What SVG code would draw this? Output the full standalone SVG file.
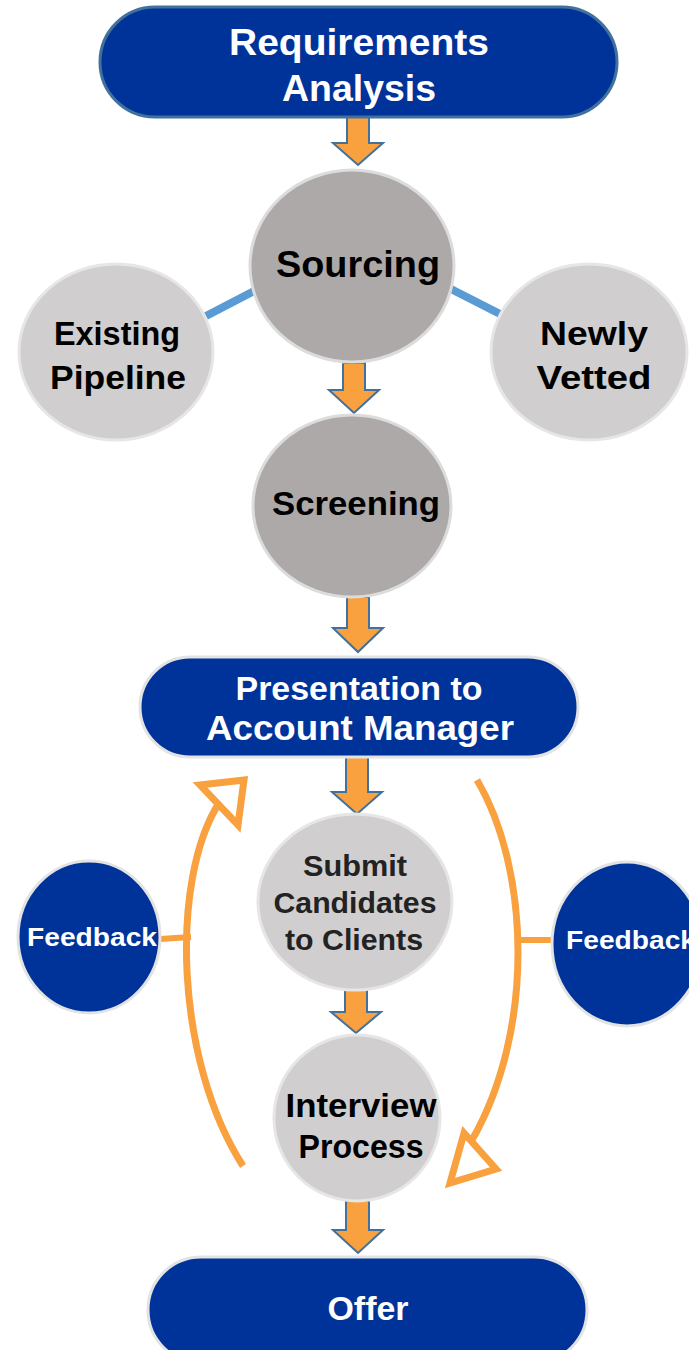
<svg xmlns="http://www.w3.org/2000/svg" width="689" height="1350" viewBox="0 0 689 1350">
<style>
.pill{fill:#003399;stroke:#E3E3E3;stroke-width:3}
.dark{fill:#ACA9A8;stroke:#DCDCDC;stroke-width:3}
.light{fill:#D0CECE;stroke:#E6E6E6;stroke-width:3}
.fb{fill:#003399;stroke:#E3E3E3;stroke-width:3}
.blk{fill:#F9A03F;stroke:#41719C;stroke-width:2;stroke-linejoin:miter}
.loop{fill:none;stroke:#F9A03F;stroke-width:7}
.head{fill:#FFFFFF;stroke:#F9A03F;stroke-width:7;stroke-linejoin:miter}
.tick{fill:none;stroke:#F9A03F;stroke-width:6}
.link{fill:none;stroke:#5B9BD5;stroke-width:8}
.w{font-family:"Liberation Sans",Arial,sans-serif;font-weight:bold;fill:#FFFFFF;text-anchor:middle}
.b{font-family:"Liberation Sans",Arial,sans-serif;font-weight:bold;fill:#000000;text-anchor:middle}
.n{font-family:"Liberation Sans",Arial,sans-serif;font-weight:bold;fill:#222222;text-anchor:middle}
</style>
<rect width="689" height="1350" fill="#FFFFFF"/>
<g id="connectors">
<line class="link" x1="206" y1="316" x2="256" y2="290"/>
<line class="link" x1="449" y1="288" x2="502" y2="315"/>
<path class="blk" d="M347 117 H369 V143 H383 L358 165 L333 143 H347 Z"/>
<path class="blk" d="M343 363 H365 V390 H379 L354 413 L329 390 H343 Z"/>
<path class="blk" d="M347 597 H369 V628 H383 L358 652 L333 628 H347 Z"/>
<path class="blk" d="M346 757 H368 V792 H382 L357 814 L332 792 H346 Z"/>
<path class="blk" d="M345 990 H367 V1012 H381 L356 1033 L331 1012 H345 Z"/>
<path class="blk" d="M346 1201 H369 V1230 H383 L358 1253 L333 1230 H346 Z"/>
<path class="loop" d="M243 1166 C175 1060 170 880 219 803"/>
<polygon class="head" points="200,785 244,780 238,825"/>
<path class="loop" d="M477 780 C530 870 535 1030 472 1140"/>
<polygon class="head" points="464,1133 496,1169 450,1183"/>
<line class="tick" x1="160" y1="939" x2="191" y2="937"/>
<line class="tick" x1="519" y1="940" x2="553" y2="940"/>
</g>
<g id="requirements">
<rect x="100" y="7" width="517" height="110" rx="55" fill="#003399" stroke="#41719C" stroke-width="3"/>
<text class="w" x="359" y="55" font-size="36" textLength="260" lengthAdjust="spacingAndGlyphs">Requirements</text>
<text class="w" x="359" y="101" font-size="36" textLength="154" lengthAdjust="spacingAndGlyphs">Analysis</text>
</g>
<g id="sourcing">
<ellipse class="dark" cx="352" cy="266" rx="102" ry="96"/>
<text class="b" x="358" y="277" font-size="37" textLength="164" lengthAdjust="spacingAndGlyphs">Sourcing</text>
</g>
<g id="existing">
<ellipse class="light" cx="116" cy="352" rx="97" ry="88"/>
<text class="b" x="117" y="345" font-size="34" textLength="126" lengthAdjust="spacingAndGlyphs">Existing</text>
<text class="b" x="118" y="389" font-size="34" textLength="136" lengthAdjust="spacingAndGlyphs">Pipeline</text>
</g>
<g id="newly">
<ellipse class="light" cx="589" cy="352" rx="98" ry="88"/>
<text class="b" x="594" y="345" font-size="34" textLength="108" lengthAdjust="spacingAndGlyphs">Newly</text>
<text class="b" x="594" y="389" font-size="34" textLength="115" lengthAdjust="spacingAndGlyphs">Vetted</text>
</g>
<g id="screening">
<ellipse class="dark" cx="352" cy="506" rx="99" ry="91"/>
<text class="b" x="356" y="515" font-size="34" textLength="168" lengthAdjust="spacingAndGlyphs">Screening</text>
</g>
<g id="presentation">
<rect class="pill" x="140" y="657" width="438" height="100" rx="50"/>
<text class="w" x="359" y="700" font-size="34" textLength="247" lengthAdjust="spacingAndGlyphs">Presentation to</text>
<text class="w" x="360" y="740" font-size="35" textLength="308" lengthAdjust="spacingAndGlyphs">Account Manager</text>
</g>
<g id="submit">
<ellipse class="light" cx="355" cy="902" rx="97" ry="88"/>
<text class="n" x="355" y="876" font-size="29" textLength="104" lengthAdjust="spacingAndGlyphs">Submit</text>
<text class="n" x="355" y="913" font-size="29" textLength="163" lengthAdjust="spacingAndGlyphs">Candidates</text>
<text class="n" x="354" y="950" font-size="29" textLength="138" lengthAdjust="spacingAndGlyphs">to Clients</text>
</g>
<g id="interview">
<ellipse class="light" cx="357" cy="1118" rx="83" ry="83"/>
<text class="b" x="361" y="1117" font-size="34" textLength="151" lengthAdjust="spacingAndGlyphs">Interview</text>
<text class="b" x="361" y="1158" font-size="34" textLength="125" lengthAdjust="spacingAndGlyphs">Process</text>
</g>
<g id="feedback-left">
<ellipse class="fb" cx="89" cy="937" rx="71" ry="76"/>
<text class="w" x="92" y="946" font-size="25" textLength="130" lengthAdjust="spacingAndGlyphs">Feedback</text>
</g>
<g id="feedback-right">
<ellipse class="fb" cx="627" cy="944" rx="75" ry="82"/>
<text x="566" y="949" font-size="25" font-family="'Liberation Sans',Arial,sans-serif" font-weight="bold" fill="#FFFFFF" textLength="130" lengthAdjust="spacingAndGlyphs">Feedback</text>
</g>
<g id="offer">
<rect class="pill" x="148" y="1257" width="439" height="106" rx="53"/>
<text class="w" x="368" y="1320" font-size="34" textLength="81" lengthAdjust="spacingAndGlyphs">Offer</text>
</g>
</svg>
